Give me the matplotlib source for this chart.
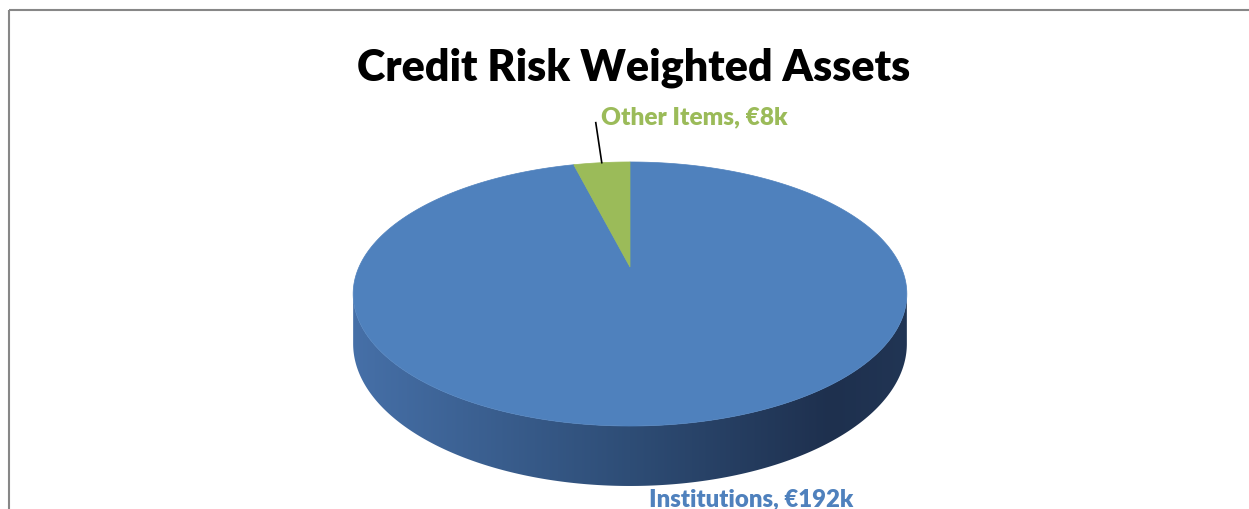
import numpy as np
import matplotlib.pyplot as plt
from matplotlib.patches import Polygon, Rectangle

# Data
labels = ['Institutions', 'Other Items']
values = [192, 8]  # in €k
slice_colors = ['#4f81bd', '#9bbb59']
title = 'Credit Risk Weighted Assets'

W, H = 1249, 510
fig = plt.figure(figsize=(W / 100, H / 100), dpi=100)
ax = fig.add_axes([0, 0, 1, 1])
ax.set_xlim(0, W)
ax.set_ylim(H, 0)
ax.axis('off')

# 3-D pie geometry in pixels (perspective ellipse)
cx, cy = 630, 268
A, B, k, D = 271, 126.5, 0.2045, 47.7


def proj(theta, depth=0.0):
    u, v = np.cos(theta), np.sin(theta)
    s = 1 + k * v
    return cx + A * u / s, cy - B * v / s + depth / s


# slice angles: Excel starts at 12 o'clock and goes clockwise
fracs = np.array(values) / np.sum(values)
starts = np.pi / 2 - 2 * np.pi * np.concatenate([[0], np.cumsum(fracs)[:-1]])
ends = starts - 2 * np.pi * fracs

# side wall between the two silhouette points, shaded left to right
a = np.arcsin(k)
th = np.linspace(np.pi + a, 2 * np.pi - a, 400)
tx, ty = proj(th)
bx, by = proj(th[::-1], D)
side = Polygon(list(zip(tx, ty)) + list(zip(bx, by)), closed=True,
               facecolor='none', edgecolor='none')
ax.add_patch(side)
x0, x1 = tx.min() - 2, tx.max() + 2
grad_x = [x0, 630, 830, x1]
grad_rgb = np.array([[70, 112, 168], [46, 77, 118], [30, 48, 78], [33, 53, 84]]) / 255
xs = np.linspace(x0, x1, 600)
img = np.stack([np.interp(xs, grad_x, grad_rgb[:, c]) for c in range(3)], axis=-1)[None, :, :]
im = ax.imshow(img, extent=[x0, x1, by.max() + 2, ty.min() - 2], aspect='auto',
               interpolation='bilinear', zorder=1)
im.set_clip_path(side)
ax.set_xlim(0, W)
ax.set_ylim(H, 0)

# top face
for s, e, c in zip(starts, ends, slice_colors):
    t = np.linspace(s, e, 300)
    px, py = proj(t)
    pts = [(cx, cy)] + list(zip(px, py))
    ax.add_patch(Polygon(pts, closed=True, facecolor=c, edgecolor=c, lw=0.5, zorder=2))

# title
ax.text(634, 80, title, ha='center', va='baseline', fontsize=31,
        fontweight='heavy', family='Lato', color='black')

# data labels
mid_other = (starts[1] + ends[1]) / 2
ox, oy = proj(mid_other)
ax.plot([ox, ox - 6], [oy, oy - 40], color='black', lw=1.2, zorder=3)
ax.text(ox - 1, oy - 39, f'{labels[1]}, €{values[1]}k', ha='left', va='baseline',
        fontsize=17.6, fontweight='heavy', family='Lato', color=slice_colors[1])

mid_inst = (starts[0] + ends[0]) / 2 - 2 * np.pi
ix, iy = proj(mid_inst, D)
ax.text(ix - 24, iy + 21, f'{labels[0]}, €{values[0]}k', ha='left', va='baseline',
        fontsize=17.3, fontweight='heavy', family='Lato', color=slice_colors[0])

# chart frame
ax.add_patch(Rectangle((9, 11), 1400, 700, fill=False, edgecolor='#878787', lw=1.5))

fig.savefig('out.png', dpi=100)
